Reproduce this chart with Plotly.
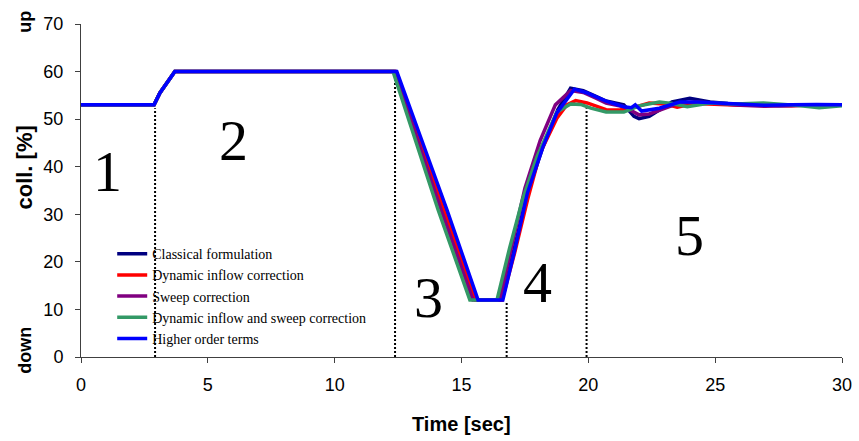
import plotly.graph_objects as go

# Common start: trim at 53 %, step up to 60 %, hold
T_HOLD = [0, 2.88, 3.11, 3.44, 3.7, 12.2]
V_HOLD = [53, 53, 55.5, 58.2, 60, 60]

# Collective response of each model after the hold phase
T_CLASSICAL = [12.4, 14.4, 15.6, 16.6, 17.1, 17.6, 18.2, 18.8, 19.3, 19.8, 20.3, 20.7,
               21.4, 21.8, 22.0, 22.4, 22.8, 23.3, 24.0, 24.8, 25.5, 26.5, 27.5, 28.5, 29.3, 30]
V_CLASSICAL = [60, 30.9, 12, 12, 23, 34.5, 44, 52, 56.5, 56, 54.8, 53.8,
               53, 50.6, 50.1, 50.6, 51.9, 53.6, 54.4, 53.6, 53.3, 53.1, 52.8, 52.9, 53, 53]

T_INFLOW = [12.38, 14.3, 15.55, 16.6, 17.1, 17.6, 18.1, 18.76, 19.15, 19.5, 19.95, 20.7,
            21.2, 21.9, 22.4, 23.0, 23.5, 24.2, 25, 26, 27, 28, 29, 30]
V_INFLOW = [60, 30.9, 12, 12, 22, 33, 42.9, 50.2, 53, 53.9, 53.4, 52,
            51.9, 52.6, 53.4, 53.2, 52.5, 53.3, 53.2, 52.9, 53, 52.8, 53, 53]

T_SWEEP = [12.35, 14.2, 15.45, 16.5, 17.0, 17.5, 18.1, 18.7, 19.3, 19.8, 20.3, 20.7,
           21.4, 22.0, 22.4, 22.8, 23.6, 24.3, 25, 26, 27, 28, 29, 30]
V_SWEEP = [60, 30.9, 12, 12, 23.5, 35.5, 45.5, 53, 56, 55.6, 54.4, 53.4,
           52.6, 50.9, 51.1, 51.9, 53.4, 53.6, 53.3, 52.9, 52.7, 52.9, 53, 53]

T_INFLOW_SWEEP = [12.3, 14.08, 15.33, 16.4, 16.9, 17.4, 17.97, 18.76, 19.3, 19.7, 20.1, 20.7,
                  21.4, 22.0, 22.8, 23.3, 23.9, 24.8, 25.8, 26.9, 28, 29.1, 30]
V_INFLOW_SWEEP = [60, 30.9, 12, 12, 23, 33, 42, 51.5, 53.2, 53.1, 52.3, 51.5,
                  51.5, 52.8, 53.6, 53.3, 52.6, 53.4, 53.2, 53.4, 53, 52.4, 52.8]

T_HIGHER = [12.45, 14.43, 15.65, 16.63, 17.1, 17.6, 18.2, 18.76, 19.45, 19.9, 20.3, 20.7,
            21.4, 21.7, 21.85, 22.1, 22.8, 23.6, 24.3, 25.0, 26, 27, 28, 29, 30]
V_HIGHER = [60, 30.9, 12, 12, 22.5, 34.5, 44, 51.3, 56.3, 55.6, 54.6, 53.8,
            52.6, 52.4, 53, 51.7, 52.3, 53.6, 53.6, 53.4, 53.1, 52.9, 53, 53.1, 53]

SERIES_NAMES = ["Classical formulation", "Dynamic inflow correction", "Sweep correction",
                "Dynamic inflow and sweep correction", "Higher order terms"]
SERIES_T = [T_CLASSICAL, T_INFLOW, T_SWEEP, T_INFLOW_SWEEP, T_HIGHER]
SERIES_V = [V_CLASSICAL, V_INFLOW, V_SWEEP, V_INFLOW_SWEEP, V_HIGHER]
SERIES_COLORS = ["#000080", "#FF0000", "#800080", "#339966", "#0000FF"]

# Phase boundaries (dotted markers) and phase labels
PHASE_T = [2.92, 12.38, 16.78, 19.93]
PHASE_TOP = [52.3, 59.3, 11.6, 52.3]
PHASE_LABELS = ["1", "2", "3", "4", "5"]
PHASE_LABEL_T = [1.06, 6.0, 13.7, 18.0, 24.0]
PHASE_LABEL_V = [38.9, 45.6, 12.6, 15.6, 25.6]

fig = go.Figure()

for t0, top in zip(PHASE_T, PHASE_TOP):
    fig.add_trace(go.Scatter(x=[t0, t0], y=[0, top], mode="lines", showlegend=False,
                             hoverinfo="skip",
                             line=dict(color="black", width=2, dash="2px,2px")))

for i, (name, ts, vs, col) in enumerate(zip(SERIES_NAMES, SERIES_T, SERIES_V, SERIES_COLORS)):
    fig.add_trace(go.Scatter(x=T_HOLD + ts, y=V_HOLD + vs, mode="lines", name=name,
                             line=dict(color=col, width=3.5)))

for lab, tx, vy in zip(PHASE_LABELS, PHASE_LABEL_T, PHASE_LABEL_V):
    fig.add_annotation(x=tx, y=vy, text=lab, showarrow=False,
                       font=dict(family="Liberation Serif, Times New Roman, serif",
                                 size=58, color="black"))

axis_font = dict(family="Liberation Sans, Arial, sans-serif", size=18, color="black")
title_font = dict(family="Liberation Sans, Arial, sans-serif", size=18, color="black")


def side_label(text, x, y, angle=0, size=18):
    fig.add_annotation(xref="paper", yref="paper", x=x, y=y, text=f"<b>{text}</b>",
                       textangle=angle, showarrow=False, xanchor="center", yanchor="middle",
                       font=dict(title_font, size=size))


side_label("Time [sec]", 0.5, -0.201, size=20)
side_label("coll. [%]", -0.074, 0.568, angle=-90, size=22)
side_label("up", -0.074, 1.006, angle=-90)
side_label("down", -0.074, 0.021, angle=-90)

fig.update_layout(
    width=859, height=441,
    margin=dict(l=81, r=17, t=24, b=84),
    paper_bgcolor="white", plot_bgcolor="white",
    showlegend=True,
    legend=dict(x=0.041, y=0.357, xanchor="left", yanchor="top",
                bgcolor="rgba(0,0,0,0)",
                font=dict(family="Liberation Serif, Times New Roman, serif", size=14,
                          color="black")),
    xaxis=dict(range=[0, 30], dtick=5, showgrid=False, zeroline=False, automargin=False,
               showline=True, linecolor="#404040", linewidth=1,
               ticks="outside", ticklen=5, tickcolor="#404040",
               ticklabelstandoff=6, tickfont=axis_font),
    yaxis=dict(range=[0, 70], dtick=10, showgrid=False, zeroline=False, automargin=False,
               showline=True, linecolor="#404040", linewidth=1,
               ticks="outside", ticklen=5, tickcolor="#404040",
               ticklabelstandoff=8, tickfont=axis_font),
)

fig.write_html("out.html")
